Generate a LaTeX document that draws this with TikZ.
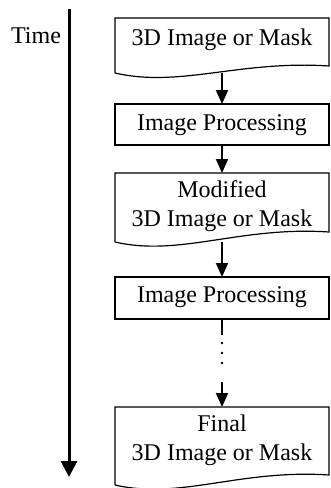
\documentclass[tikz,border=0pt]{standalone}
\usepackage{fontspec}
\setmainfont{Liberation Serif}
\usetikzlibrary{arrows.meta,calc}

\tikzset{
  boxframe/.style={rectangle, draw, line width=1.2pt, minimum width=214pt,
    inner sep=0pt, outer sep=0pt},
  docframe/.style={rectangle, draw=none, minimum width=214pt,
    inner sep=0pt, outer sep=0pt},
  label/.style={anchor=base, align=center, inner sep=0pt,
    font=\fontsize{24}{29}\selectfont},
  flow/.style={line width=2pt, -{Triangle[length=14pt,width=12pt]}},
  flowline/.style={line width=2pt},
  timeline/.style={line width=3pt, -{Triangle[length=16pt,width=16pt]}}
}

% document symbol: straight top and sides, wavy bottom edge
\newcommand\docoutline[2]{%
  \draw[line width=1.2pt, line join=miter]
    (#1.south west) -- (#1.north west) -- (#1.north east)
    -- ($(#1.south east)+(0,-#2)$)
    .. controls ($(#1.south east)+(-89,-#2-6)$) and ($(#1.south west)+(65,15)$)
    .. (#1.south west);}

\begin{document}
\begin{tikzpicture}[x=1pt,y=-1pt]
\useasboundingbox (0,0) rectangle (330,488);

% time axis
\coordinate (ttop) at (69,9);
\coordinate (tbot) at (69,477);
\draw[timeline] (ttop) -- (tbot);
\node[label] (time) at (36,43) {Time};

% boxes
\node[docframe, minimum height=55pt] (b1) at (222,45.5) {};
\docoutline{b1}{7}
\node[boxframe, minimum height=41pt] (b2) at (222,124.5) {};
\node[docframe, minimum height=69pt] (b3) at (222,207.5) {};
\docoutline{b3}{10}
\node[boxframe, minimum height=42pt] (b4) at (222,298) {};
\node[docframe, minimum height=78pt] (b5) at (222,446) {};
\docoutline{b5}{10}

% texts (base anchor of a two-line label sits on its last line)
\node[label] (l1) at (222,45) {3D Image or Mask};
\node[label] (l2) at (222,130) {Image Processing};
\node[label] (l3) at (222,226) {Modified\\3D Image or Mask};
\node[label] (l4) at (222,302) {Image Processing};
\node[label] (l5) at (222,460) {Final\\3D Image or Mask};

% connectors
\draw[flow] (b1.south) -- (b2.north);
\draw[flow] (b2.south) -- (b3.north);
\draw[flow] (b3.south) -- (b4.north);
\coordinate (g1) at (222,335);
\coordinate (d1) at (222,343);
\coordinate (d2) at (222,363);
\coordinate (g2) at (222,382);
\draw[flowline] (b4.south) -- (g1);
\draw[line width=2.8pt, line cap=round, dash pattern=on 0pt off 10pt] (d1) -- (d2);
\draw[flow] (g2) -- (b5.north);
\end{tikzpicture}
\end{document}
